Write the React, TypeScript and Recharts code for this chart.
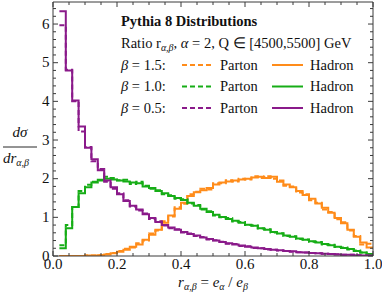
import React from 'react';
import { LineChart, Line, XAxis, YAxis } from 'recharts';

// left edges of the 0.02-wide bins, plus the closing edge 1.00
const binEdges = [
  0.02, 0.04, 0.06, 0.08, 0.1, 0.12, 0.14, 0.16, 0.18, 0.2,
  0.22, 0.24, 0.26, 0.28, 0.3, 0.32, 0.34, 0.36, 0.38, 0.4,
  0.42, 0.44, 0.46, 0.48, 0.5, 0.52, 0.54, 0.56, 0.58, 0.6,
  0.62, 0.64, 0.66, 0.68, 0.7, 0.72, 0.74, 0.76, 0.78, 0.8,
  0.82, 0.84, 0.86, 0.88, 0.9, 0.92, 0.94, 0.96, 0.98, 1.0,
];

// beta = 1.5 (orange)
const partonB15 = [
  0.0, 0.0, 0.0, 0.0, 0.01, 0.01, 0.02, 0.05, 0.08, 0.13,
  0.19, 0.22, 0.33, 0.4, 0.58, 0.66, 0.9, 1.02, 1.26, 1.35,
  1.6, 1.66, 1.74, 1.72, 1.88, 1.88, 1.96, 1.93, 2.0, 1.98,
  2.06, 2.02, 2.06, 2.0, 1.95, 1.82, 1.8, 1.64, 1.6, 1.44,
  1.38, 1.2, 1.14, 0.95, 0.87, 0.66, 0.52, 0.3, 0.32,
];
const hadronB15 = [
  0.0, 0.0, 0.0, 0.0, 0.01, 0.01, 0.02, 0.04, 0.07, 0.11,
  0.16, 0.24, 0.3, 0.42, 0.55, 0.68, 0.86, 1.05, 1.22, 1.38,
  1.55, 1.65, 1.7, 1.76, 1.85, 1.9, 1.93, 1.95, 1.98, 2.0,
  2.03, 2.05, 2.02, 2.05, 1.92, 1.85, 1.78, 1.68, 1.58, 1.48,
  1.36, 1.25, 1.12, 0.98, 0.85, 0.68, 0.5, 0.35, 0.22,
];

// beta = 1.0 (green)
const partonB10 = [
  0.28, 0.8, 1.27, 1.68, 1.84, 1.92, 1.95, 2.05, 2.02, 1.96,
  1.97, 1.86, 1.92, 1.82, 1.74, 1.7, 1.6, 1.57, 1.48, 1.47,
  1.36, 1.32, 1.2, 1.16, 1.05, 1.0, 0.98, 0.89, 0.88, 0.8,
  0.79, 0.71, 0.69, 0.61, 0.59, 0.52, 0.51, 0.44, 0.43, 0.37,
  0.36, 0.3, 0.29, 0.23, 0.22, 0.17, 0.14, 0.09, 0.05,
];
const hadronB10 = [
  0.2, 0.72, 1.27, 1.62, 1.78, 1.9, 1.97, 2.0, 1.98, 1.95,
  1.93, 1.9, 1.88, 1.8, 1.76, 1.68, 1.62, 1.55, 1.5, 1.45,
  1.38, 1.3, 1.22, 1.14, 1.07, 1.01, 0.96, 0.91, 0.86, 0.81,
  0.78, 0.72, 0.68, 0.62, 0.58, 0.53, 0.5, 0.45, 0.42, 0.38,
  0.35, 0.31, 0.28, 0.24, 0.21, 0.18, 0.13, 0.09, 0.05,
];

// beta = 0.5 (purple)
const partonB05 = [
  5.97, 4.82, 4.0, 3.22, 2.82, 2.45, 2.25, 1.92, 1.74, 1.62,
  1.44, 1.28, 1.18, 1.1, 0.96, 0.9, 0.79, 0.72, 0.69, 0.61,
  0.58, 0.52, 0.49, 0.43, 0.41, 0.37, 0.32, 0.31, 0.26, 0.25,
  0.21, 0.2, 0.17, 0.16, 0.14, 0.13, 0.11, 0.1, 0.09, 0.08,
  0.07, 0.06, 0.05, 0.045, 0.035, 0.03, 0.02, 0.015, 0.01,
];
const hadronB05 = [
  6.33, 4.8, 4.02, 3.35, 2.8, 2.5, 2.22, 1.95, 1.78, 1.6,
  1.42, 1.3, 1.2, 1.08, 0.98, 0.88, 0.8, 0.74, 0.68, 0.62,
  0.57, 0.53, 0.48, 0.44, 0.4, 0.36, 0.33, 0.3, 0.27, 0.24,
  0.22, 0.2, 0.18, 0.16, 0.15, 0.13, 0.12, 0.1, 0.09, 0.08,
  0.07, 0.06, 0.05, 0.04, 0.035, 0.03, 0.02, 0.015, 0.01,
];

const xMajorTicks = [0, 0.2, 0.4, 0.6, 0.8, 1.0];
const xTickLabels = ['0.0', '0.2', '0.4', '0.6', '0.8', '1.0'];
const yMajorTicks = [0, 1, 2, 3, 4, 5, 6];
const yTickLabels = ['0', '1', '2', '3', '4', '5', '6'];

const xAllTicks = Array.from({ length: 21 }, (_, i) => Math.round(i * 5) / 100);
const yAllTicks = Array.from({ length: 33 }, (_, i) => Math.round(i * 2) / 10);

const ORANGE = '#ff8c1a';
const GREEN = '#16ad16';
const PURPLE = '#8a1a8a';
const AX = '#3a3a3a';
const FONT = '"Liberation Serif", "Times New Roman", Times, serif';
const Y_DOMAIN: [number, number] = [0, 6.57];

const data = binEdges.map((r, i) => {
  const j = Math.min(i, hadronB15.length - 1);
  return {
    r,
    p15: partonB15[j],
    h15: hadronB15[j],
    p10: partonB10[j],
    h10: hadronB10[j],
    p05: partonB05[j],
    h05: hadronB05[j],
  };
});

const majorIndex = (arr: number[], v: number) => arr.findIndex((t) => Math.abs(t - v) < 1e-6);

const BottomTick = (props: any) => {
  const { x, y, payload } = props;
  const idx = majorIndex(xMajorTicks, payload.value);
  const len = idx >= 0 ? 5 : 3;
  return (
    <g>
      <line x1={x} y1={y} x2={x} y2={y - len} stroke={AX} strokeWidth={1} />
      {idx >= 0 && (
        <text x={x} y={y + 13} textAnchor="middle" fontSize={15} fontFamily={FONT} fill="#111">
          {xTickLabels[idx]}
        </text>
      )}
    </g>
  );
};

const TopTick = (props: any) => {
  const { x, y, payload } = props;
  const idx = majorIndex(xMajorTicks, payload.value);
  const len = idx >= 0 ? 5 : 3;
  return <line x1={x} y1={y} x2={x} y2={y + len} stroke={AX} strokeWidth={1} />;
};

const LeftTick = (props: any) => {
  const { x, y, payload } = props;
  const idx = majorIndex(yMajorTicks, payload.value);
  const len = idx >= 0 ? 5 : 3;
  return (
    <g>
      <line x1={x} y1={y} x2={x + len} y2={y} stroke={AX} strokeWidth={1} />
      {idx >= 0 && (
        <text x={x - 3.5} y={y + 4.5} textAnchor="end" fontSize={15} fontFamily={FONT} fill="#111">
          {yTickLabels[idx]}
        </text>
      )}
    </g>
  );
};

const RightTick = (props: any) => {
  const { x, y, payload } = props;
  const idx = majorIndex(yMajorTicks, payload.value);
  const len = idx >= 0 ? 5 : 3;
  return <line x1={x} y1={y} x2={x - len} y2={y} stroke={AX} strokeWidth={1} />;
};

const LegendRow = ({ y, label, color }: { y: number; label: string; color: string }) => (
  <g>
    <text x={121} y={y} fontSize={14.5} fontFamily={FONT} fill="#111">
      <tspan fontStyle="italic">β</tspan> = {label}:
    </text>
    <line x1={182} x2={213} y1={y - 4.5} y2={y - 4.5} stroke={color} strokeWidth={2} strokeDasharray="5 3" />
    <text x={220} y={y} fontSize={14.5} fontFamily={FONT} fill="#111">Parton</text>
    <line x1={272} x2={303} y1={y - 4.5} y2={y - 4.5} stroke={color} strokeWidth={2} />
    <text x={310} y={y} fontSize={14.5} fontFamily={FONT} fill="#111">Hadron</text>
  </g>
);

export default function App() {
  return (
    <div style={{ position: 'absolute', left: 0, top: 0, width: 382, height: 299, background: '#fff' }}>
      <LineChart width={382} height={299} data={data} margin={{ top: 1, right: 8, bottom: 13, left: 13 }}>
        <XAxis
          dataKey="r"
          type="number"
          domain={[0, 1]}
          ticks={xAllTicks}
          interval={0}
          height={30}
          tickSize={0}
          tickMargin={0}
          tick={(p: any) => <BottomTick {...p} />}
          axisLine={{ stroke: AX, strokeWidth: 1 }}
          tickLine={false}
          allowDataOverflow
        />
        <XAxis
          xAxisId="top"
          dataKey="r"
          orientation="top"
          type="number"
          domain={[0, 1]}
          ticks={xAllTicks}
          interval={0}
          height={1}
          tickSize={0}
          tickMargin={0}
          tick={(p: any) => <TopTick {...p} />}
          axisLine={{ stroke: AX, strokeWidth: 1 }}
          tickLine={false}
          allowDataOverflow
        />
        <YAxis
          type="number"
          domain={Y_DOMAIN}
          ticks={yAllTicks}
          interval={0}
          width={40}
          tickSize={0}
          tickMargin={0}
          tick={(p: any) => <LeftTick {...p} />}
          axisLine={{ stroke: AX, strokeWidth: 1 }}
          tickLine={false}
          allowDataOverflow
        />
        <YAxis
          yAxisId="right"
          orientation="right"
          type="number"
          domain={Y_DOMAIN}
          ticks={yAllTicks}
          interval={0}
          width={1}
          tickSize={0}
          tickMargin={0}
          tick={(p: any) => <RightTick {...p} />}
          axisLine={{ stroke: AX, strokeWidth: 1 }}
          tickLine={false}
          allowDataOverflow
        />
        {/* invisible carrier so the mirrored frame axes get their own scales */}
        <Line xAxisId="top" yAxisId="right" type="stepAfter" dataKey="h05" stroke="transparent" strokeWidth={0} dot={false} activeDot={false} legendType="none" isAnimationActive={false} />
        <Line type="stepAfter" dataKey="p15" stroke={ORANGE} strokeWidth={2} strokeDasharray="5 3" dot={false} isAnimationActive={false} />
        <Line type="stepAfter" dataKey="h15" stroke={ORANGE} strokeWidth={2} dot={false} isAnimationActive={false} />
        <Line type="stepAfter" dataKey="p10" stroke={GREEN} strokeWidth={2} strokeDasharray="5 3" dot={false} isAnimationActive={false} />
        <Line type="stepAfter" dataKey="h10" stroke={GREEN} strokeWidth={2} dot={false} isAnimationActive={false} />
        <Line type="stepAfter" dataKey="p05" stroke={PURPLE} strokeWidth={2} strokeDasharray="5 3" dot={false} isAnimationActive={false} />
        <Line type="stepAfter" dataKey="h05" stroke={PURPLE} strokeWidth={2} dot={false} isAnimationActive={false} />
      </LineChart>
      <svg width={382} height={299} style={{ position: 'absolute', left: 0, top: 0, pointerEvents: 'none' }}>
        <text x={121} y={26} fontSize={14.5} fontWeight="bold" fontFamily={FONT} fill="#111">
          Pythia 8 Distributions
        </text>
        <text x={121} y={48} fontSize={14.5} fontFamily={FONT} fill="#111">
          Ratio r
          <tspan fontSize={10} fontStyle="italic" dy={3}>α,β</tspan>
          <tspan dy={-3}>, </tspan>
          <tspan fontStyle="italic">α</tspan> = 2, Q ∈ [4500,5500] GeV
        </text>
        <LegendRow y={69.5} label="1.5" color={ORANGE} />
        <LegendRow y={91} label="1.0" color={GREEN} />
        <LegendRow y={112.5} label="0.5" color={PURPLE} />

        {/* y-axis label */}
        <text x={20} y={137} textAnchor="middle" fontSize={15} fontStyle="italic" fontFamily={FONT} fill="#111">
          dσ
        </text>
        <line x1={3} x2={37} y1={147} y2={147} stroke="#111" strokeWidth={0.9} />
        <text x={3} y={163} fontSize={15} fontStyle="italic" fontFamily={FONT} fill="#111">
          dr
          <tspan fontSize={10} dy={3}>α,β</tspan>
        </text>

        {/* x-axis label */}
        <text x={213} y={287} textAnchor="middle" fontSize={15} fontStyle="italic" fontFamily={FONT} fill="#111">
          r
          <tspan fontSize={10} dy={3}>α,β</tspan>
          <tspan dy={-3} fontStyle="normal"> = </tspan>
          <tspan>e</tspan>
          <tspan fontSize={10} dy={3}>α</tspan>
          <tspan dy={-3} fontStyle="normal"> / </tspan>
          <tspan>e</tspan>
          <tspan fontSize={10} dy={3}>β</tspan>
        </text>
      </svg>
    </div>
  );
}
